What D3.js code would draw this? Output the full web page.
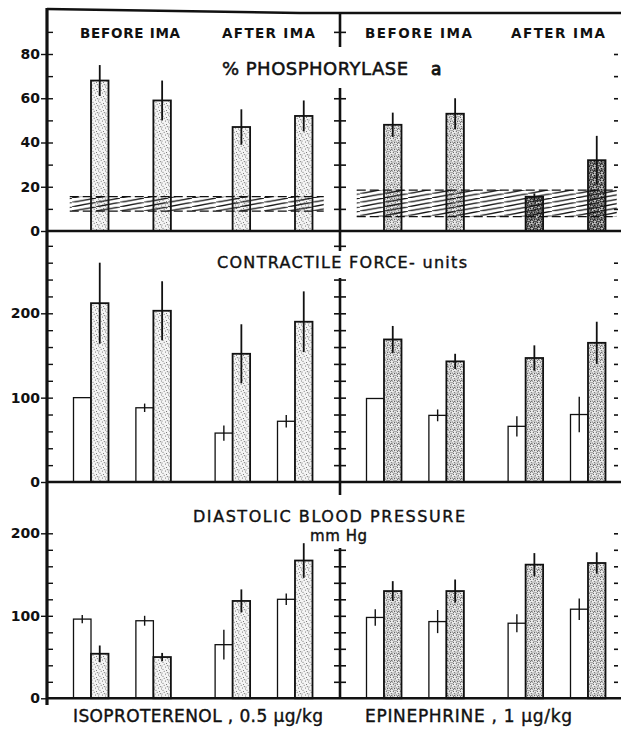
<!DOCTYPE html>
<html>
<head>
<meta charset="utf-8">
<script src="https://cdn.jsdelivr.net/npm/d3@7"></script>
<style>
  body { margin: 0; background: #fff; }
  svg { display: block; }
</style>
</head>
<body>
<div id="chart"></div>
<script>
// ---- data ----
var drugs = ["ISOPROTERENOL , 0.5 µg/kg", "EPINEPHRINE , 1 µg/kg"];
var slots = ["before 1", "before 2", "after 1", "after 2"];
var headers = ["BEFORE IMA", "AFTER IMA"];

// % phosphorylase a (response only) + control band
var phosIso = [68, 59, 47, 52];
var phosIsoErr = [7, 9, 8, 7];
var phosEpi = [48, 53, 15.5, 32];
var phosEpiErr = [5.5, 7, 1.5, 11];
var phosBandIso = [9, 15.5];
var phosBandEpi = [6.5, 18.5];

// contractile force - units
var forceIsoCtl = [100, 88, 58, 72];
var forceIsoCtlErr = [0, 5, 9, 7.5];
var forceIso = [212, 203, 152, 190];
var forceIsoErr = [48, 35, 35, 36];
var forceEpiCtl = [99, 79, 66, 80];
var forceEpiCtlErr = [0, 7, 12, 21];
var forceEpi = [169, 143, 147, 165];
var forceEpiErr = [16, 9, 15, 25];

// diastolic blood pressure mm Hg
var dbpIsoCtl = [96, 94, 65, 120];
var dbpIsoCtlErr = [5, 6, 18, 7];
var dbpIso = [54, 50, 118, 167];
var dbpIsoErr = [10, 5, 14, 21];
var dbpEpiCtl = [98, 93, 91, 108];
var dbpEpiCtlErr = [10, 14, 11, 13];
var dbpEpi = [130, 130, 162, 164];
var dbpEpiErr = [12, 14, 14, 13];

// ---- layout ----
var W = 621, H = 731;
var X0 = 47, XR = 633;
var barW = 17.5;
var slotPos = [0, 1, 2.27, 3.27];

var svg = d3.select("#chart").append("svg")
	.attr("width", W)
	.attr("height", H);

var defs = svg.append("defs");

// stipple textures
function stipple(id, bg, dots, r, col) {
	var p = defs.append("pattern")
		.attr("id", id)
		.attr("patternUnits", "userSpaceOnUse")
		.attr("width", 7).attr("height", 7);
	p.append("rect").attr("width", 7).attr("height", 7).attr("fill", bg);
	p.selectAll("circle").data(dots).enter().append("circle")
		.attr("cx", function(d){ return d[0]; })
		.attr("cy", function(d){ return d[1]; })
		.attr("r", r)
		.attr("fill", col);
}
var dotsA = [[1,1],[4.5,2],[2,4.2],[5.5,5.5],[6.3,0.6],[3.2,6.3],[0.4,3]];
var dotsB = dotsA.concat([[3,0.8],[5.6,3.6],[1.3,5.6],[4,4.6],[2.6,2.4],[6.3,2.4]]);
stipple("stipLight", "#f4f4f4", dotsA, 0.55, "#666");
stipple("stipDense", "#ececec", dotsB, 0.6, "#555");
stipple("stipDark", "#cfcfcf", dotsB, 0.85, "#222");

var hatch = defs.append("pattern")
	.attr("id", "hatch")
	.attr("patternUnits", "userSpaceOnUse")
	.attr("width", 24).attr("height", 4.4);
hatch.append("path")
	.attr("d", "M0,4.4L24,0")
	.attr("stroke", "#111")
	.attr("stroke-width", 1.3);

var xDrug = d3.scaleBand().domain(drugs).range([X0, XR]);
var xSlot = d3.scaleLinear().domain([0, 3.27]).range([44, 248]);
function pairX(drug, i) { return xDrug(drug) + xSlot(slotPos[i]); }
var XM = xDrug(drugs[1]);

var yPhos = d3.scaleLinear().domain([0, 80]).range([231, 54]);
var yForce = d3.scaleLinear().domain([0, 200]).range([482, 313.3]);
var yDbp = d3.scaleLinear().domain([0, 200]).range([698.3, 533.3]);

function drawBars(g, drug, y, vals, errs, ctl, ctlErr, fills) {
	slots.forEach(function(s, i) {
		var cx = pairX(drug, i);
		if (ctl) {
			g.append("rect")
				.attr("x", cx - barW).attr("y", y(ctl[i]))
				.attr("width", barW).attr("height", y(0) - y(ctl[i]))
				.attr("fill", "#fff").attr("stroke", "#111").attr("stroke-width", 1.3);
			if (ctlErr[i] > 0) {
				g.append("line")
					.attr("x1", cx - barW / 2).attr("x2", cx - barW / 2)
					.attr("y1", y(ctl[i] + ctlErr[i])).attr("y2", y(ctl[i] - ctlErr[i]))
					.attr("stroke", "#111").attr("stroke-width", 1.4);
			}
		}
		g.append("rect")
			.attr("x", cx).attr("y", y(vals[i]))
			.attr("width", barW).attr("height", y(0) - y(vals[i]))
			.attr("fill", "url(#" + fills[i] + ")").attr("stroke", "#111").attr("stroke-width", 1.8);
		g.append("line")
			.attr("x1", cx + barW / 2).attr("x2", cx + barW / 2)
			.attr("y1", y(vals[i] + errs[i])).attr("y2", y(vals[i] - errs[i]))
			.attr("stroke", "#111").attr("stroke-width", 1.8);
	});
}

var gBars = svg.append("g");
var lightF = ["stipLight", "stipLight", "stipLight", "stipLight"];
var denseF = ["stipDense", "stipDense", "stipDense", "stipDense"];
drawBars(gBars, drugs[0], yPhos, phosIso, phosIsoErr, null, null, lightF);
drawBars(gBars, drugs[1], yPhos, phosEpi, phosEpiErr, null, null, ["stipDense", "stipDense", "stipDark", "stipDark"]);
drawBars(gBars, drugs[0], yForce, forceIso, forceIsoErr, forceIsoCtl, forceIsoCtlErr, lightF);
drawBars(gBars, drugs[1], yForce, forceEpi, forceEpiErr, forceEpiCtl, forceEpiCtlErr, denseF);
drawBars(gBars, drugs[0], yDbp, dbpIso, dbpIsoErr, dbpIsoCtl, dbpIsoCtlErr, lightF);
drawBars(gBars, drugs[1], yDbp, dbpEpi, dbpEpiErr, dbpEpiCtl, dbpEpiCtlErr, denseF);

// control range bands for phosphorylase
[[drugs[0], phosBandIso, 30, 20], [drugs[1], phosBandEpi, 36, 20]].forEach(function(b) {
	var x1 = pairX(b[0], 0) + barW / 2 - b[2];
	var x2 = pairX(b[0], 3) + barW / 2 + b[3];
	svg.append("rect")
		.attr("x", x1).attr("y", yPhos(b[1][1]))
		.attr("width", x2 - x1).attr("height", yPhos(b[1][0]) - yPhos(b[1][1]))
		.attr("fill", "url(#hatch)");
	b[1].forEach(function(v) {
		svg.append("line")
			.attr("x1", x1).attr("x2", x2)
			.attr("y1", yPhos(v)).attr("y2", yPhos(v))
			.attr("stroke", "#111").attr("stroke-width", 1.2)
			.attr("stroke-dasharray", "9,4");
	});
});

// ---- frame ----
var frame = svg.append("g").attr("stroke", "#111").attr("fill", "none");
frame.append("path").attr("d", "M" + X0 + ",9L300,13L" + W + ",13").attr("stroke-width", 2.5);
frame.append("line").attr("x1", X0).attr("x2", X0).attr("y1", 8).attr("y2", 705).attr("stroke-width", 3.2);
[yPhos(0), yForce(0), yDbp(0)].forEach(function(yy) {
	frame.append("line").attr("x1", X0).attr("x2", W).attr("y1", yy).attr("y2", yy).attr("stroke-width", 2.4);
});

// left axes
function leftAxis(y, major, minor) {
	var g = svg.append("g").attr("transform", "translate(" + X0 + ",0)");
	g.call(d3.axisLeft(y).tickValues(major).tickSize(6).tickPadding(1).tickFormat(d3.format("d")));
	g.append("g").call(d3.axisRight(y).tickValues(minor).tickSize(6).tickFormat(""));
	g.selectAll(".domain").remove();
	g.selectAll("line").attr("stroke", "#111").attr("stroke-width", 1.4);
	g.selectAll("text")
		.attr("font-family", "DejaVu Sans, sans-serif")
		.attr("font-weight", "bold")
		.attr("font-size", 14)
		.attr("fill", "#111");
}
leftAxis(yPhos, [0, 20, 40, 60, 80], d3.range(10, 100, 10));
leftAxis(yForce, [0, 100, 200], d3.range(20, 300, 20));
leftAxis(yDbp, [0, 100, 200], d3.range(20, 220, 20));

// middle axis (crossing ticks)
function midAxis(y, ticks, top, bottom) {
	var g = svg.append("g").attr("transform", "translate(" + XM + ",0)");
	g.append("line").attr("y1", top).attr("y2", bottom).attr("stroke", "#111").attr("stroke-width", 2.6);
	if (ticks.length) {
		g.append("g").call(d3.axisLeft(y).tickValues(ticks).tickSize(6).tickFormat(""));
		g.append("g").call(d3.axisRight(y).tickValues(ticks).tickSize(6).tickFormat(""));
	}
	g.selectAll(".domain").remove();
	g.selectAll(".tick line").attr("stroke", "#111").attr("stroke-width", 1.6);
}
midAxis(yPhos, [90], 12, 47);
midAxis(yPhos, d3.range(10, 70, 10), 88, yPhos(0));
midAxis(yForce, [280], yPhos(0), 251);
midAxis(yForce, d3.range(20, 260, 20), 278, yForce(0));
midAxis(yDbp, [], yForce(0), 495);
midAxis(yDbp, d3.range(20, 200, 20), 548, yDbp(0));

// right edge ticks (frame just off the page)
function rightTicks(y, ticks) {
	var g = svg.append("g").attr("transform", "translate(614,0)");
	g.call(d3.axisRight(y).tickValues(ticks).tickSize(4).tickFormat(""));
	g.selectAll(".domain").remove();
	g.selectAll("line").attr("stroke", "#111").attr("stroke-width", 1.6);
}
rightTicks(yPhos, d3.range(10, 90, 10));
rightTicks(yForce, d3.range(20, 280, 20));
rightTicks(yDbp, d3.range(20, 220, 20));

// ---- text ----
function label(txt, x1, x2, y, size, weight, thick) {
	svg.append("text")
		.attr("x", x1).attr("y", y)
		.attr("textLength", x2 - x1)
		.attr("lengthAdjust", "spacing")
		.attr("font-family", "DejaVu Sans, sans-serif")
		.attr("font-size", size)
		.attr("font-weight", weight || "normal")
		.attr("fill", "#111")
		.attr("stroke", thick ? "#111" : "none")
		.attr("stroke-width", thick || 0)
		.text(txt);
}
label(headers[0], 80, 180, 38, 13.5, "bold");
label(headers[1], 222, 315, 38, 13.5, "bold");
label(headers[0], 365, 472, 38, 13.5, "bold");
label(headers[1], 511, 605, 38, 13.5, "bold");

label("% PHOSPHORYLASE", 222, 408, 75, 18, "normal", 0.5);
label("a", 431, 441, 75, 17, "normal", 0.9);
label("CONTRACTILE FORCE- units", 217, 467, 268, 16, "normal", 0.4);
label("DIASTOLIC BLOOD PRESSURE", 193, 465, 522, 16, "normal", 0.4);
label("mm Hg", 310, 367, 541, 15, "normal", 0.4);

label(drugs[0], 73, 323, 722, 17, "normal", 0.4);
label(drugs[1], 365, 572, 722, 17, "normal", 0.4);
</script>
</body>
</html>
